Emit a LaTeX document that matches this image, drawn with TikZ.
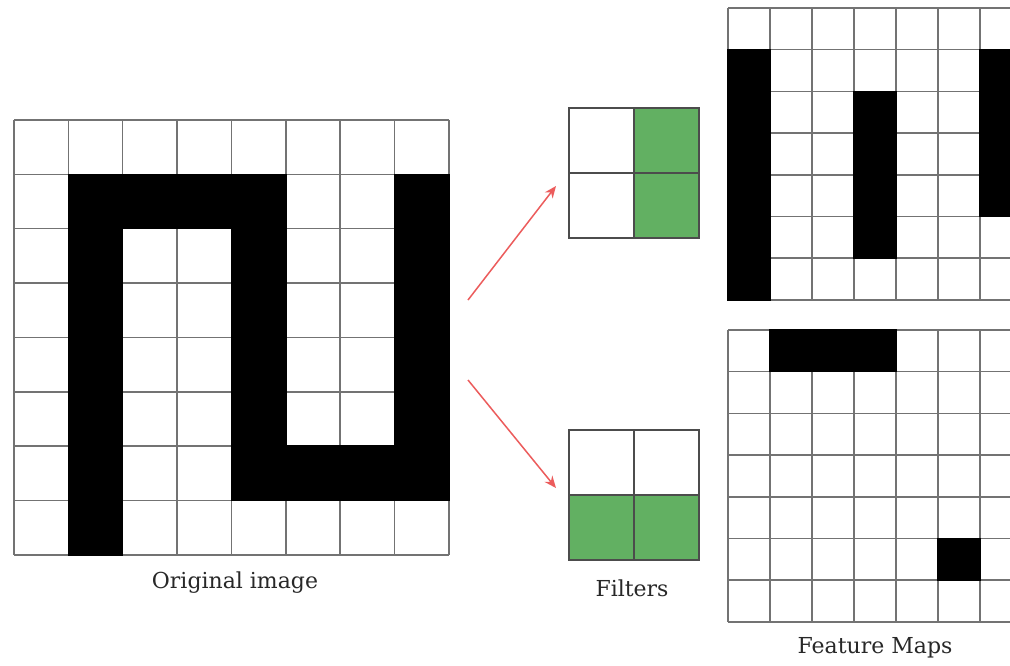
\documentclass[tikz,border=0pt]{standalone}
\usepackage{fontspec}
\setmainfont{DejaVu Serif}
\usetikzlibrary{arrows.meta}
\definecolor{gridgray}{RGB}{115,115,115}
\definecolor{filtergreen}{RGB}{98,176,98}
\definecolor{arrowred}{RGB}{236,92,92}
\definecolor{labelgray}{RGB}{40,40,40}
\begin{document}
\begin{tikzpicture}[x=1pt,y=-1pt,
  gridline/.style={draw=gridgray,line width=1.5pt},
  blackcell/.style={fill=black,draw=black,line width=1.5pt},
  greencell/.style={fill=filtergreen,draw=none},
  filterline/.style={draw=black!70,line width=1.4pt},
  redarrow/.style={draw=arrowred,line width=1.5pt,-{Stealth[length=12pt,width=10pt]}},
  caption/.style={font=\fontsize{22}{26}\selectfont,text=labelgray,inner sep=0pt}]
\useasboundingbox (0,0) rectangle (1010,665);
\clip (0,0) rectangle (1010,665);
\fill[white] (0,0) rectangle (1010,665);

% ---------- Original image (8x8) ----------
\def\ox{14}\def\oy{120}\def\oc{54.35}
\foreach \i in {0,...,8}{
  \draw[gridline] ({\ox+\i*\oc},\oy) -- ({\ox+\i*\oc},{\oy+8*\oc});
  \draw[gridline] (\ox,{\oy+\i*\oc}) -- ({\ox+8*\oc},{\oy+\i*\oc});
}
\foreach \c/\r in {1/1,2/1,3/1,4/1,7/1,
  1/2,4/2,7/2, 1/3,4/3,7/3, 1/4,4/4,7/4, 1/5,4/5,7/5,
  1/6,4/6,5/6,6/6,7/6, 1/7}{
  \draw[blackcell] ({\ox+\c*\oc},{\oy+\r*\oc}) rectangle ({\ox+(\c+1)*\oc},{\oy+(\r+1)*\oc});
}

% ---------- Filters ----------
\def\fx{569}\def\fc{65}
% top filter: right column green
\fill[greencell] ({\fx+\fc},108) rectangle ({\fx+2*\fc},238);
\draw[filterline] (\fx,108) rectangle ({\fx+2*\fc},238);
\draw[filterline] ({\fx+\fc},108) -- ({\fx+\fc},238);
\draw[filterline] (\fx,173) -- ({\fx+2*\fc},173);
% bottom filter: bottom row green
\fill[greencell] (\fx,495) rectangle ({\fx+2*\fc},560);
\draw[filterline] (\fx,430) rectangle ({\fx+2*\fc},560);
\draw[filterline] ({\fx+\fc},430) -- ({\fx+\fc},560);
\draw[filterline] (\fx,495) -- ({\fx+2*\fc},495);

\coordinate (filterA) at (556,186);
\coordinate (filterB) at (556,488);
\coordinate (srcA) at (468,300);
\coordinate (srcB) at (468,380);
\draw[redarrow] (srcA) -- (filterA);
\draw[redarrow] (srcB) -- (filterB);

% ---------- Feature maps (7x7) ----------
\def\mx{728}\def\mc{42}\def\mr{41.7}
% top map
\def\my{8}
\foreach \i in {0,...,7}{
  \draw[gridline] ({\mx+\i*\mc},\my) -- ({\mx+\i*\mc},{\my+7*\mr});
  \draw[gridline] (\mx,{\my+\i*\mr}) -- ({\mx+7*\mc},{\my+\i*\mr});
}
\foreach \c/\r in {0/1,0/2,0/3,0/4,0/5,0/6, 3/2,3/3,3/4,3/5, 6/1,6/2,6/3,6/4}{
  \draw[blackcell] ({\mx+\c*\mc},{\my+\r*\mr}) rectangle ({\mx+(\c+1)*\mc},{\my+(\r+1)*\mr});
}
% bottom map
\def\ny{330}
\foreach \i in {0,...,7}{
  \draw[gridline] ({\mx+\i*\mc},\ny) -- ({\mx+\i*\mc},{\ny+7*\mr});
  \draw[gridline] (\mx,{\ny+\i*\mr}) -- ({\mx+7*\mc},{\ny+\i*\mr});
}
\foreach \c/\r in {1/0,2/0,3/0, 5/5}{
  \draw[blackcell] ({\mx+\c*\mc},{\ny+\r*\mr}) rectangle ({\mx+(\c+1)*\mc},{\ny+(\r+1)*\mr});
}

% ---------- Captions ----------
\node[caption] (capOrig) at (235,583) {Original image};
\node[caption] (capFilt) at (632,588) {Filters};
\node[caption] (capMaps) at (875,648) {Feature Maps};
\end{tikzpicture}
\end{document}
